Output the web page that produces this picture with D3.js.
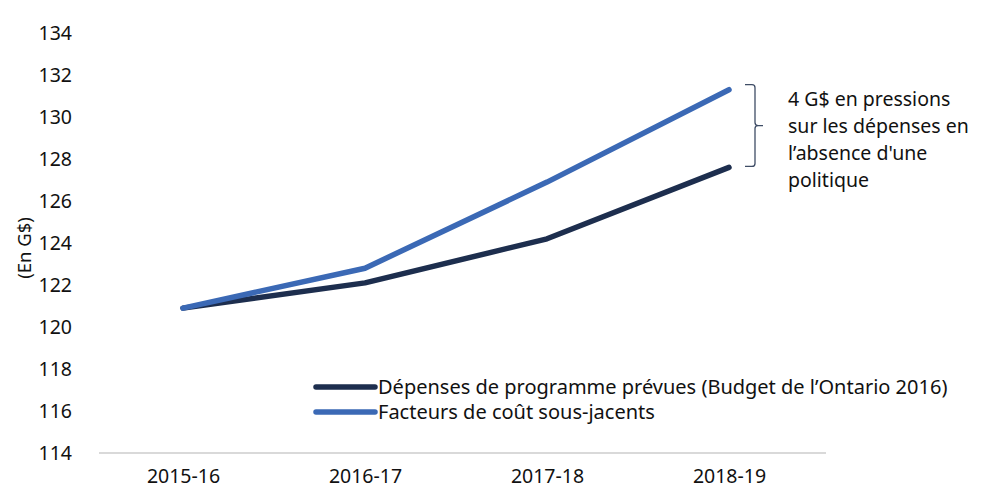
<!DOCTYPE html>
<html>
<head>
<meta charset="utf-8">
<script src="https://cdn.jsdelivr.net/npm/d3@7"></script>
<style>
  body { margin: 0; background: #fff; }
  svg text { font-family: "Noto Sans", "Open Sans", sans-serif; fill: #111; }
</style>
</head>
<body>
<script>
// categories and series (in G$)
var years = ['2015-16', '2016-17', '2017-18', '2018-19'];
var planned = [120.9, 122.1, 124.2, 127.6];   // Dépenses de programme prévues
var drivers = [120.9, 122.8, 126.9, 131.3];   // Facteurs de coût sous-jacents
var yTicks = [114, 116, 118, 120, 122, 124, 126, 128, 130, 132, 134];
var seriesNames = ['Dépenses de programme prévues (Budget de l\u2019Ontario 2016)', 'Facteurs de coût sous-jacents'];
var noteLines = ['4 G$ en pressions', 'sur les dépenses en', 'l\u2019absence d\'une', 'politique'];

var width = 1002, height = 498;
var colors = ['#1d2e4e', '#3b69b5'];

var svg = d3.select('body').append('svg')
    .attr('width', width)
    .attr('height', height);

// scales
var x = d3.scalePoint()
    .domain(years)
    .range([183, 729]);
var y = d3.scaleLinear()
    .domain([114, 134])
    .range([453, 33]);

// y axis (labels only)
var yAxis = svg.append('g')
    .attr('transform', 'translate(72,0)')
    .call(d3.axisLeft(y).tickValues(yTicks).tickSize(0).tickPadding(0));
yAxis.select('.domain').remove();
yAxis.selectAll('text')
    .style('font-size', '19.5px')
    .attr('fill', '#111');

// x axis
var xAxis = svg.append('g')
    .attr('transform', `translate(0, ${y(114)})`)
    .call(d3.axisBottom(x).tickSize(0).tickPadding(16));
xAxis.select('.domain').remove();
xAxis.selectAll('text')
    .style('font-size', '19.5px')
    .attr('fill', '#111');
svg.append('line')
    .attr('x1', 99).attr('x2', 826)
    .attr('y1', y(114)).attr('y2', y(114))
    .attr('stroke', '#d9d9d9')
    .attr('stroke-width', 2);

// y label
svg.append('text')
    .attr('transform', 'translate(31, 248) rotate(-90)')
    .style('text-anchor', 'middle')
    .style('font-size', '18.5px')
    .text('(En G$)');

// lines
var line = d3.line()
    .x(function(d, i) { return x(years[i]); })
    .y(function(d) { return y(d); });

[planned, drivers].forEach(function(s, i) {
  svg.append('path')
      .datum(s)
      .attr('d', line)
      .attr('fill', 'none')
      .attr('stroke', colors[i])
      .attr('stroke-width', 5.5)
      .attr('stroke-linecap', 'round')
      .attr('stroke-linejoin', 'round');
});

// bracket between the end points
var last = years.length - 1;
var bTop = y(drivers[last]) - 5, bBot = y(planned[last]) - 1, bMid = (bTop + bBot) / 2;
svg.append('path')
    .attr('d', `M745,${bTop} H752 Q755,${bTop} 755,${bTop + 3} V${bMid - 3} Q755,${bMid} 758,${bMid} H763 M758,${bMid} Q755,${bMid} 755,${bMid + 3} V${bBot - 3} Q755,${bBot} 752,${bBot} H745`)
    .attr('fill', 'none')
    .attr('stroke', '#3f4d66')
    .attr('stroke-width', 1.3);

// annotation text
svg.append('text')
    .attr('x', 788)
    .attr('y', 106)
    .style('font-size', '19.5px')
  .selectAll('tspan')
    .data(noteLines)
    .enter()
  .append('tspan')
    .attr('x', 788)
    .attr('dy', function(d, i) { return i ? 27 : 0; })
    .text(function(d) { return d; });

// legend
var legend = svg.append('g')
    .selectAll('g')
    .data(seriesNames)
    .enter()
  .append('g')
    .attr('transform', function(d, i) { return `translate(316, ${387 + i * 25})`; });
legend.append('line')
    .attr('x1', 0).attr('x2', 59)
    .attr('stroke', function(d, i) { return colors[i]; })
    .attr('stroke-width', 5.5)
    .attr('stroke-linecap', 'round');
legend.append('text')
    .attr('x', 62)
    .attr('dy', '0.35em')
    .style('font-size', '20px')
    .text(function(d) { return d; });
</script>
</body>
</html>
